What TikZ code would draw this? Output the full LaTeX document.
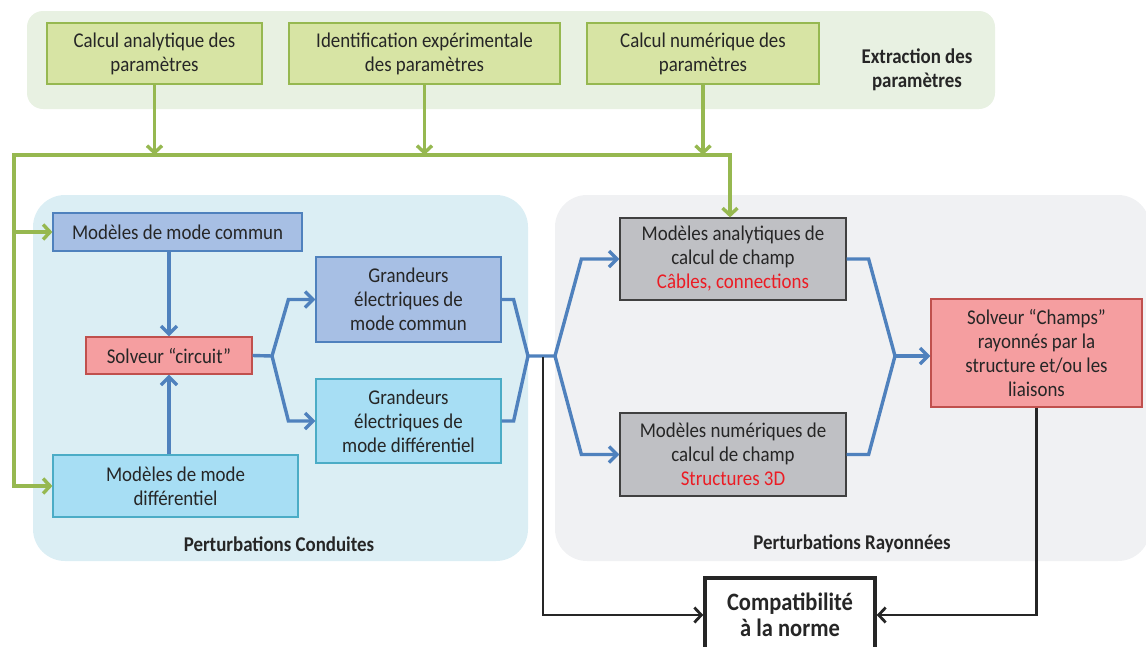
\documentclass[tikz,border=0pt]{standalone}
\usepackage{fontspec}
\setmainfont{Carlito}[FakeStretch=0.9]
\usepackage{xcolor}
\usetikzlibrary{arrows.meta}

\definecolor{bandgreen}{RGB}{232,241,226}
\definecolor{boxgreen}{RGB}{215,228,164}
\definecolor{linegreen}{RGB}{150,184,80}
\definecolor{panelblue}{RGB}{219,238,244}
\definecolor{panelgrey}{RGB}{240,241,243}
\definecolor{boxblue}{RGB}{167,191,228}
\definecolor{edgeblue}{RGB}{79,129,189}
\definecolor{boxcyan}{RGB}{167,222,244}
\definecolor{edgecyan}{RGB}{75,172,198}
\definecolor{boxred}{RGB}{245,158,160}
\definecolor{edgered}{RGB}{192,80,77}
\definecolor{boxgrey}{RGB}{191,192,196}
\definecolor{edgegrey}{RGB}{64,64,64}
\definecolor{textgrey}{RGB}{38,38,38}
\definecolor{redtext}{RGB}{235,28,36}

\begin{document}
\begin{tikzpicture}[x=1pt,y=-1pt,
  box/.style={draw,line width=1.2pt,inner sep=0pt,align=center,text=textgrey,
    font=\fontsize{21}{24}\selectfont},
  parbox/.style={box,fill=boxgreen,draw=linegreen,minimum height=61pt},
  commbox/.style={box,fill=boxblue,draw=edgeblue},
  diffbox/.style={box,fill=boxcyan,draw=edgecyan},
  solvbox/.style={box,fill=boxred,draw=edgered},
  champbox/.style={box,fill=boxgrey,draw=edgegrey,minimum width=226pt},
  titre/.style={align=center,text=textgrey,font=\fontsize{21}{24}\selectfont\bfseries},
  gline/.style={draw=linegreen,line width=3.4pt},
  garrow/.style={gline,-{Straight Barb[length=7pt,width=15pt]}},
  bline/.style={draw=edgeblue,line width=3.4pt},
  barrow/.style={bline,-{Straight Barb[length=8pt,width=16pt]}},
  karrow/.style={draw=black!85,line width=2.8pt,-{Straight Barb[length=7pt,width=15pt]}}]
\useasboundingbox (0,0) rectangle (1146,646);

% fonds
\fill[bandgreen,rounded corners=16pt] (27,11) rectangle (995,109);
\fill[panelblue,rounded corners=32pt] (33,195) rectangle (528,561);
\fill[panelgrey,rounded corners=32pt] (555,195) rectangle (1150,561);

% extraction des parametres
\node[parbox,minimum width=215pt] (calcana) at (154.5,53.5) {Calcul analytique des\\paramètres};
\node[parbox,minimum width=271pt] (identexp) at (424.5,53.5) {Identification expérimentale\\des paramètres};
\node[parbox,minimum width=232pt] (calcnum) at (703,53.5) {Calcul numérique des\\paramètres};
\node[titre] (extract) at (917,70) {Extraction des\\paramètres};

% perturbations conduites
\node[commbox,minimum width=249pt,minimum height=38pt] (mmc) at (177.5,232) {Modèles de mode commun};
\node[solvbox,minimum width=166pt,minimum height=37pt] (solvc) at (169,355.5) {Solveur “circuit”};
\node[diffbox,minimum width=245pt,minimum height=62pt] (mmd) at (175.5,486) {Modèles de mode\\différentiel};
\node[commbox,minimum width=185pt,minimum height=85pt] (gmc) at (408.5,299.5) {Grandeurs\\électriques de\\mode commun};
\node[diffbox,minimum width=185pt,minimum height=84pt] (gmd) at (408.5,421) {Grandeurs\\électriques de\\mode différentiel};
\node[titre] (conduites) at (279,544) {Perturbations Conduites};

% perturbations rayonnees
\node[champbox,minimum height=82pt] (mac) at (733,259) {Modèles analytiques de\\calcul de champ\\\textcolor{redtext}{Câbles, connections}};
\node[champbox,minimum height=83pt] (mnc) at (733,454.5) {Modèles numériques de\\calcul de champ\\\textcolor{redtext}{Structures 3D}};
\node[solvbox,minimum width=211pt,minimum height=108pt] (solvch) at (1036.5,353) {Solveur “Champs”\\rayonnés par la\\structure et/ou les\\liaisons};
\node[titre] (rayonnees) at (852,544) {Perturbations Rayonnées};

\node[draw=black!85,line width=3.5pt,fill=white,minimum width=170pt,minimum height=74pt,
  align=center,text=textgrey,font=\fontsize{25}{26}\selectfont\bfseries] (compat) at (790,615)
  {Compatibilité\\à la norme};

% bus vert
\coordinate (busl) at (14,155);
\coordinate (busr) at (730,155);
\draw[garrow] (calcana.south) -- (calcana.south |- busl);
\draw[garrow] (identexp.south) -- (identexp.south |- busl);
\draw[garrow] (calcnum.south) -- (calcnum.south |- busl);
\draw[garrow] (busr) -- (busl) |- (mmd.west);
\draw[garrow] (busl |- mmc.west) -- (mmc.west);
\draw[garrow] (busl) -- (busr) -- (busr |- mac.north);

% liaisons bleues
\coordinate (fl) at (272,356);
\coordinate (mg) at (528,356);
\coordinate (fr) at (555,356);
\coordinate (jr) at (895,356);
\draw[barrow] (mmc.south -| solvc.north) -- (solvc.north);
\draw[barrow] (mmd.north -| solvc.south) -- (solvc.south);
\draw[barrow] (solvc.east) -- (fl) -- ([xshift=-27pt]gmc.west) -- (gmc.west);
\draw[barrow] (fl) -- ([xshift=-27pt]gmd.west) -- (gmd.west);
\draw[bline] (gmc.east) -- ++(12,0) -- (mg) -- (fr);
\draw[bline] (gmd.east) -- ++(12,0) -- (mg);
\draw[barrow] (fr) -- ([xshift=-38pt]mac.west) -- (mac.west);
\draw[barrow] (fr) -- ([xshift=-38pt]mnc.west) -- (mnc.west);
\draw[bline] (mac.east) -- ++(22,0) -- (jr);
\draw[bline] (mnc.east) -- ++(22,0) -- (jr);
\draw[barrow] (jr) -- (jr -| solvch.west);

% vers la norme
\coordinate (kd) at (543,357);
\draw[karrow] (kd) |- (compat.west);
\draw[karrow] (solvch.south) |- (compat.east);
\end{tikzpicture}
\end{document}
